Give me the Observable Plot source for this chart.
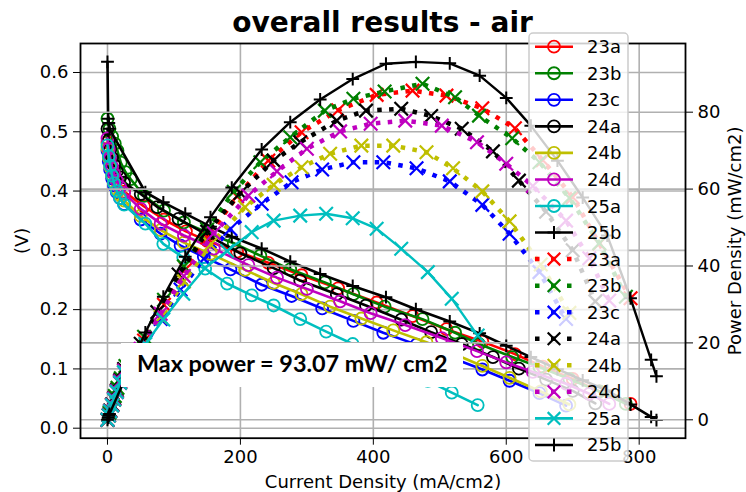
<!DOCTYPE html>
<html><head><meta charset="utf-8">
<script src="https://cdn.jsdelivr.net/npm/d3@7"></script>
<script src="https://cdn.jsdelivr.net/npm/@observablehq/plot@0.6"></script>
<style>
body{margin:0;background:white;}
#chart{position:relative;width:746px;height:492px;overflow:hidden;font-family:"DejaVu Sans";}
#chart > svg{position:absolute;left:0;top:0;}
</style></head>
<body><div id="chart"></div>
<script>
// ---- data ----
const seriesNames = ["23a","23b","23c","24a","24b","24d","25a","25b"];
const xTicks = [0, 200, 400, 600, 800];
const vTicks = [0.0, 0.1, 0.2, 0.3, 0.4, 0.5, 0.6];
const pTicks = [0, 20, 40, 60, 80];
const maxPowerText = "Max power = 93.07 mW/ cm2";

const current_23a = [0, 2, 4, 7, 10, 14, 19, 25, 55, 85, 118, 150, 195, 242, 292, 347, 405, 459, 510, 564, 613, 655, 700, 740, 787];
const voltage_23a = [0.482, 0.465, 0.452, 0.438, 0.428, 0.418, 0.408, 0.399, 0.374, 0.352, 0.332, 0.316, 0.298, 0.279, 0.258, 0.236, 0.212, 0.189, 0.167, 0.146, 0.125, 0.104, 0.083, 0.062, 0.041];
const power_23a   = [0, 1.2, 2.3, 3.9, 5.5, 7.5, 10.0, 12.8, 20.6, 29.9, 39.2, 47.4, 58.1, 67.4, 74.8, 80.5, 84.5, 85.6, 84.3, 81.0, 75.8, 67.5, 57.9, 45.8, 31.6];

const current_23b = [0, 3, 7, 11, 15, 20, 27, 35, 55, 85, 115, 150, 190, 230, 275, 327, 370, 417, 474, 523, 559, 609, 650, 695, 740, 780];
const voltage_23b = [0.522, 0.505, 0.492, 0.480, 0.468, 0.448, 0.432, 0.420, 0.392, 0.367, 0.347, 0.330, 0.312, 0.291, 0.268, 0.246, 0.226, 0.205, 0.184, 0.161, 0.142, 0.120, 0.103, 0.083, 0.062, 0.041];
const power_23b   = [0, 1.8, 4.0, 6.2, 8.3, 10.8, 14.0, 17.5, 21.6, 31.2, 39.9, 49.5, 59.3, 67.0, 73.5, 80.4, 83.5, 85.4, 87.4, 83.9, 79.1, 73.2, 67.0, 57.7, 45.9, 32.0];

const current_23c = [0, 2, 4, 7, 10, 14, 19, 25, 50, 80, 110, 145, 185, 232, 277, 323, 370, 415, 465, 515, 564, 605, 650, 690];
const voltage_23c = [0.468, 0.450, 0.436, 0.421, 0.409, 0.398, 0.388, 0.378, 0.352, 0.328, 0.308, 0.289, 0.268, 0.242, 0.223, 0.202, 0.181, 0.161, 0.141, 0.120, 0.099, 0.080, 0.059, 0.038];
const power_23c   = [0, 1.1, 2.2, 3.7, 5.2, 7.2, 9.6, 12.3, 17.6, 26.2, 33.9, 41.9, 49.6, 56.2, 61.8, 65.1, 67.0, 67.0, 65.4, 62.0, 55.9, 48.4, 38.4, 26.2];

const current_24a = [0, 2, 4, 7, 10, 14, 19, 25, 50, 75, 107, 150, 200, 250, 290, 345, 389, 442, 487, 533, 580, 619, 660, 700, 734];
const voltage_24a = [0.505, 0.486, 0.471, 0.456, 0.444, 0.433, 0.423, 0.414, 0.395, 0.373, 0.353, 0.326, 0.295, 0.270, 0.249, 0.226, 0.207, 0.183, 0.162, 0.142, 0.120, 0.1005, 0.082, 0.063, 0.042];
const power_24a   = [0, 1.2, 2.4, 4.0, 5.6, 7.7, 10.3, 13.2, 19.8, 28.0, 37.8, 48.9, 59.0, 67.4, 72.2, 77.8, 80.4, 80.9, 79.0, 75.7, 69.8, 62.2, 54.1, 44.1, 30.8];

const current_24b = [0, 2, 4, 7, 10, 14, 19, 25, 50, 80, 115, 155, 207, 250, 292, 335, 382, 430, 480, 520, 564, 605, 652, 695];
const voltage_24b = [0.472, 0.456, 0.441, 0.426, 0.414, 0.403, 0.393, 0.384, 0.358, 0.334, 0.313, 0.294, 0.267, 0.245, 0.226, 0.205, 0.185, 0.165, 0.145, 0.126, 0.105, 0.085, 0.062, 0.040];
const power_24b   = [0, 1.1, 2.2, 3.8, 5.3, 7.3, 9.7, 12.5, 17.9, 26.7, 36.0, 45.6, 55.3, 61.1, 65.7, 69.2, 71.3, 71.3, 69.6, 65.4, 59.4, 51.6, 40.4, 27.8];

const current_24d = [0, 2, 4, 7, 10, 14, 19, 25, 50, 80, 115, 160, 212, 255, 300, 350, 396, 448, 503, 556, 600, 640, 690, 725, 755];
const voltage_24d = [0.489, 0.471, 0.456, 0.441, 0.429, 0.418, 0.407, 0.397, 0.370, 0.345, 0.325, 0.303, 0.275, 0.254, 0.235, 0.214, 0.194, 0.174, 0.152, 0.130, 0.111, 0.095, 0.075, 0.058, 0.041];
const power_24d   = [0, 1.2, 2.3, 3.9, 5.5, 7.5, 10.0, 12.8, 18.5, 27.6, 37.4, 48.5, 58.3, 64.6, 70.5, 75.0, 77.0, 77.8, 76.5, 72.2, 66.6, 60.8, 51.8, 42.0, 31.0];

const current_25a = [0, 2, 4, 7, 10, 14, 19, 25, 57, 84, 114, 147, 180, 217, 250, 290, 329, 369, 405, 442, 482, 518, 557];
const voltage_25a = [0.477, 0.459, 0.443, 0.426, 0.413, 0.400, 0.388, 0.377, 0.345, 0.311, 0.288, 0.269, 0.244, 0.224, 0.207, 0.184, 0.163, 0.142, 0.123, 0.101, 0.080, 0.060, 0.039];
const power_25a   = [0, 1.1, 2.2, 3.8, 5.3, 7.3, 9.7, 12.4, 19.7, 26.1, 32.8, 39.5, 43.9, 48.8, 51.8, 53.1, 53.6, 52.4, 49.7, 44.5, 38.4, 31.5, 21.9];

const current_25b = [0, 1, 2, 3, 57, 84, 117, 155, 187, 232, 275, 320, 369, 419, 464, 515, 560, 600, 637, 677, 715, 752, 787, 818, 826];
const voltage_25b = [0.618, 0.522, 0.515, 0.505, 0.398, 0.381, 0.362, 0.340, 0.323, 0.303, 0.281, 0.260, 0.240, 0.221, 0.2006, 0.180, 0.160, 0.139, 0.120, 0.0996, 0.0808, 0.0637, 0.040, 0.019, 0.0137];
const power_25b   = [0, 0.52, 1.03, 1.52, 22.7, 32.0, 42.4, 52.7, 60.4, 70.3, 77.4, 83.3, 88.6, 92.6, 93.07, 92.7, 89.5, 83.7, 76.5, 67.4, 57.8, 47.9, 31.6, 15.6, 11.3];

// ---- build tables ----
const currents = [current_23a, current_23b, current_23c, current_24a, current_24b, current_24d, current_25a, current_25b];
const voltages = [voltage_23a, voltage_23b, voltage_23c, voltage_24a, voltage_24b, voltage_24d, voltage_25a, voltage_25b];
const powers   = [power_23a, power_23b, power_23c, power_24a, power_24b, power_24d, power_25a, power_25b];
const tables = seriesNames.map((name, k) => currents[k].map((I, i) => ({series: name, I, V: voltages[k][i], P: powers[k][i]})));

// ---- styles ----
const colors = ["#ff0000", "#008000", "#0000ff", "#000000", "#bfbf00", "#bf00bf", "#00bfbf", "#000000"];
const W = 746, H = 492;
const margins = {marginLeft: 80, marginRight: 61, marginTop: 43, marginBottom: 54.3};
const xDomain = [-40.6, 869.7], vDomain = [-0.01687, 0.6489], pDomain = [-4.785, 97.86];
const gridStyle = {stroke: "#b0b0b0", strokeOpacity: 1, strokeWidth: 1.6};
const fontStyle = {fontFamily: "DejaVu Sans", fontSize: "18px", color: "black", background: "transparent", overflow: "visible"};

const vMarks = [];
tables.forEach((rows, k) => {
  vMarks.push(Plot.line(rows, {x: "I", y: "V", stroke: colors[k], strokeWidth: 2.6}));
  if (k === 7) vMarks.push(Plot.dot(rows, {x: "I", y: "V", symbol: "plus", r: 4.2, stroke: colors[k], strokeWidth: 2}));
  else vMarks.push(Plot.dot(rows, {x: "I", y: "V", symbol: "circle", r: 6, fill: "none", stroke: colors[k], strokeWidth: 1.8}));
});

const pMarks = [];
tables.forEach((rows, k) => {
  if (k < 6) {
    pMarks.push(Plot.line(rows, {x: "I", y: "P", stroke: colors[k], strokeWidth: 4.5, strokeDasharray: "4.5,7.4", strokeLinecap: "butt"}));
    pMarks.push(Plot.dot(rows, {x: "I", y: "P", symbol: "times", r: 6.2, stroke: colors[k], strokeWidth: 2.2}));
  } else if (k === 6) {
    pMarks.push(Plot.line(rows, {x: "I", y: "P", stroke: colors[k], strokeWidth: 2.4}));
    pMarks.push(Plot.dot(rows, {x: "I", y: "P", symbol: "times", r: 6.2, stroke: colors[k], strokeWidth: 2.2}));
  } else {
    pMarks.push(Plot.line(rows, {x: "I", y: "P", stroke: colors[k], strokeWidth: 2.4}));
    pMarks.push(Plot.dot(rows, {x: "I", y: "P", symbol: "plus", r: 4.2, stroke: colors[k], strokeWidth: 2}));
  }
});

const plotV = Plot.plot({
  width: W, height: H, ...margins,
  style: {...fontStyle, background: "white"},
  x: {domain: xDomain},
  y: {domain: vDomain},
  marks: [
    Plot.gridX({ticks: xTicks, ...gridStyle}),
    Plot.gridY({ticks: vTicks, ...gridStyle}),
    Plot.axisX({ticks: xTicks, tickSize: 7, tickPadding: 5, fontSize: 18, label: "Current Density (mA/cm2)", labelAnchor: "center", labelArrow: "none", labelOffset: 50}),
    Plot.axisY({ticks: vTicks, tickFormat: d => d.toFixed(1), tickSize: 7, tickPadding: 5, fontSize: 18, label: "(V)", labelAnchor: "center", labelArrow: "none", labelOffset: 65}),
    ...vMarks
  ]
});

const plotP = Plot.plot({
  width: W, height: H, ...margins,
  style: fontStyle,
  x: {domain: xDomain, axis: null},
  y: {domain: pDomain},
  marks: [
    Plot.gridY({ticks: pTicks, ...gridStyle}),
    Plot.axisY({anchor: "right", ticks: pTicks, tickSize: 7, tickPadding: 5, fontSize: 18, label: "Power Density (mW/cm2)", labelAnchor: "center", labelArrow: "none", labelOffset: 55}),
    ...pMarks,
    Plot.frame({stroke: "black", strokeWidth: 1.8})
  ]
});

const chart = document.getElementById("chart");
chart.appendChild(plotV);
chart.appendChild(plotP);

// ---- overlay: title, annotation, legend ----
const ov = d3.select(chart).append("svg").attr("width", W).attr("height", H);
ov.append("text").attr("x", 382.5).attr("y", 31.5).attr("text-anchor", "middle")
  .attr("font-family", "DejaVu Sans").attr("font-weight", "bold").attr("font-size", 28).text("overall results - air");

ov.append("rect").attr("x", 121).attr("y", 343).attr("width", 342).attr("height", 44).attr("fill", "white");
ov.append("text").attr("x", 137).attr("y", 372).attr("font-family", "Lato").attr("font-weight", "bold").attr("font-size", 23.4).text(maxPowerText);

const lg = ov.append("g");
lg.append("rect").attr("x", 529).attr("y", 33).attr("width", 99).attr("height", 428).attr("rx", 4)
  .attr("fill", "white").attr("fill-opacity", 0.8).attr("stroke", "#cccccc").attr("stroke-width", 1.5);
const legendRows = [];
seriesNames.forEach((n, k) => legendRows.push({label: n, k, kind: "V"}));
seriesNames.forEach((n, k) => legendRows.push({label: n, k, kind: "P"}));
legendRows.forEach((row, i) => {
  const cy = 46.7 + i * 26.55;
  const c = colors[row.k];
  const g = lg.append("g");
  const x0 = 535, x1 = 573, xm = 554;
  let marker;
  if (row.kind === "P" && row.k < 6) {
    g.append("line").attr("x1", x0).attr("x2", x1).attr("y1", cy).attr("y2", cy)
      .attr("stroke", c).attr("stroke-width", 4.5).attr("stroke-dasharray", "4.5,11.5");
    marker = "x";
  } else {
    g.append("line").attr("x1", x0).attr("x2", x1).attr("y1", cy).attr("y2", cy)
      .attr("stroke", c).attr("stroke-width", 2.6);
    marker = row.kind === "V" ? (row.k === 7 ? "+" : "o") : (row.k === 7 ? "+" : "x");
  }
  if (marker === "o") {
    g.append("circle").attr("cx", xm).attr("cy", cy).attr("r", 6).attr("fill", "none").attr("stroke", c).attr("stroke-width", 1.8);
  } else if (marker === "x") {
    const r = 6.3;
    g.append("path").attr("d", `M${xm-r},${cy-r}L${xm+r},${cy+r}M${xm-r},${cy+r}L${xm+r},${cy-r}`).attr("stroke", c).attr("stroke-width", 2.2).attr("fill", "none");
  } else {
    const r = 6.5;
    g.append("path").attr("d", `M${xm-r},${cy}L${xm+r},${cy}M${xm},${cy-r}L${xm},${cy+r}`).attr("stroke", c).attr("stroke-width", 2).attr("fill", "none");
  }
  g.append("text").attr("x", 587).attr("y", cy + 6.5).attr("font-family", "DejaVu Sans").attr("font-size", 18).attr("fill", "#000").text(row.label);
});
</script>
</body></html>
